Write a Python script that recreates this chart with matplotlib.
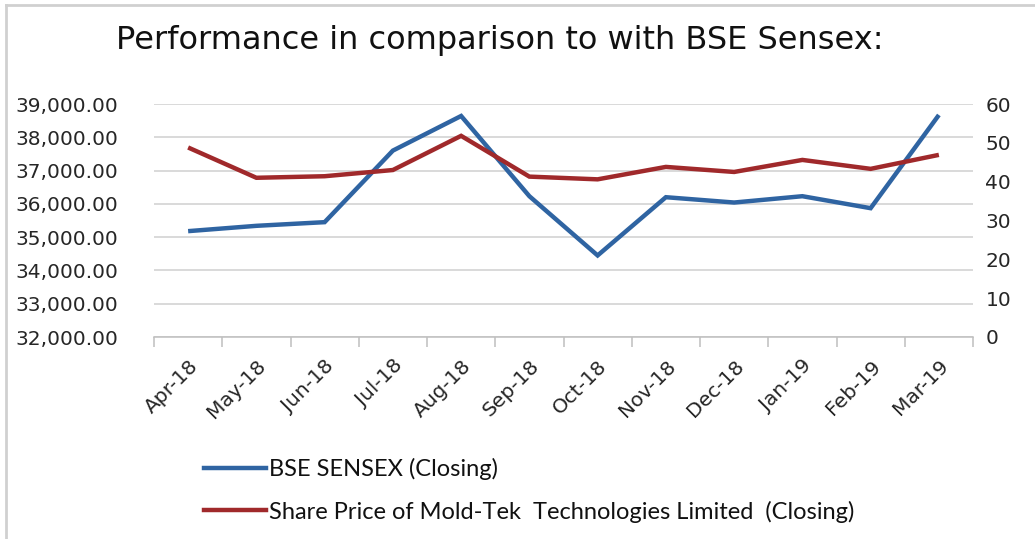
import numpy as np
import matplotlib.pyplot as plt
from matplotlib.lines import Line2D

# data
months = ['Apr-18', 'May-18', 'Jun-18', 'Jul-18', 'Aug-18', 'Sep-18',
          'Oct-18', 'Nov-18', 'Dec-18', 'Jan-19', 'Feb-19', 'Mar-19']
sensex = [35180, 35340, 35450, 37600, 38640, 36230,
          34450, 36200, 36040, 36230, 35870, 38670]
moldtek = [48.8, 41.0, 41.4, 43.0, 51.8, 41.3,
           40.6, 43.8, 42.5, 45.6, 43.3, 46.9]

sensex_label = 'BSE SENSEX (Closing)'
moldtek_label = 'Share Price of Mold-Tek  Technologies Limited  (Closing)'

blue = '#2f64a2'
red = '#a0292b'
grid_c = '#d0d0d0'

fig = plt.figure(figsize=(10.35, 5.39), dpi=100)
W, H = 1035, 539
ax = fig.add_axes([154 / W, 1 - 337 / H, (973 - 154) / W, (337 - 104) / H])
ax2 = ax.twinx()

x = np.arange(len(months))
ax.plot(x, sensex, color=blue, lw=3.2, solid_capstyle='butt', solid_joinstyle='miter')
ax2.plot(x, moldtek, color=red, lw=3.2, solid_capstyle='butt', solid_joinstyle='miter')

ax.set_xlim(-0.5, len(months) - 0.5)
ax.set_ylim(32000, 39000)
ax2.set_ylim(0, 60)
ax.set_yticks(np.arange(32000, 39001, 1000))
ax2.set_yticks(np.arange(0, 61, 10))
ax.set_yticklabels([f'{v:,.2f}' for v in np.arange(32000, 39001, 1000)])

ax.yaxis.grid(True, color=grid_c, lw=1.1)
ax.set_axisbelow(True)

for a in (ax, ax2):
    for s in ('left', 'right', 'top', 'bottom'):
        a.spines[s].set_visible(False)
    a.tick_params(axis='y', length=0, labelsize=14.5, labelcolor='#262626')
ax.spines['bottom'].set_visible(True)
ax.spines['bottom'].set_color('#bfbfbf')
ax.spines['bottom'].set_linewidth(1.1)
ax.tick_params(axis='y', pad=26)
ax2.tick_params(axis='y', pad=9)

# category ticks between points
ax.set_xticks(np.arange(-0.5, len(months), 1.0), minor=False)
ax.set_xticklabels([])
ax.tick_params(axis='x', length=7, color='#bfbfbf', width=1.1)
ax.set_xticks(x, minor=True)
ax.set_xticklabels(months, minor=True, rotation=45, ha='right', va='top',
                   rotation_mode='anchor', fontsize=14.5, color='#262626')
ax.tick_params(axis='x', which='minor', length=0, pad=14)

fig.text(500 / W, 1 - 40 / H, 'Performance in comparison to with BSE Sensex:',
         ha='center', va='center', fontsize=23, color='#111111')

handles = [Line2D([], [], color=blue, lw=3.2), Line2D([], [], color=red, lw=3.2)]
fig.legend(handles, [sensex_label, moldtek_label], loc='upper left',
           bbox_to_anchor=(183 / W, 1 - 437 / H), frameon=False,
           prop={'family': 'Lato', 'size': 17}, labelspacing=0.85,
           handlelength=2.6, handletextpad=0.15, labelcolor='#111111')

# chart border (top and left visible)
fig.add_artist(Line2D([6 / W, 6 / W], [0, 1 - 5 / H], color='#d0d0d0', lw=2,
                      transform=fig.transFigure))
fig.add_artist(Line2D([6 / W, 1], [1 - 5 / H, 1 - 5 / H], color='#d0d0d0', lw=2,
                      transform=fig.transFigure))

fig.savefig('out.png', dpi=100)
